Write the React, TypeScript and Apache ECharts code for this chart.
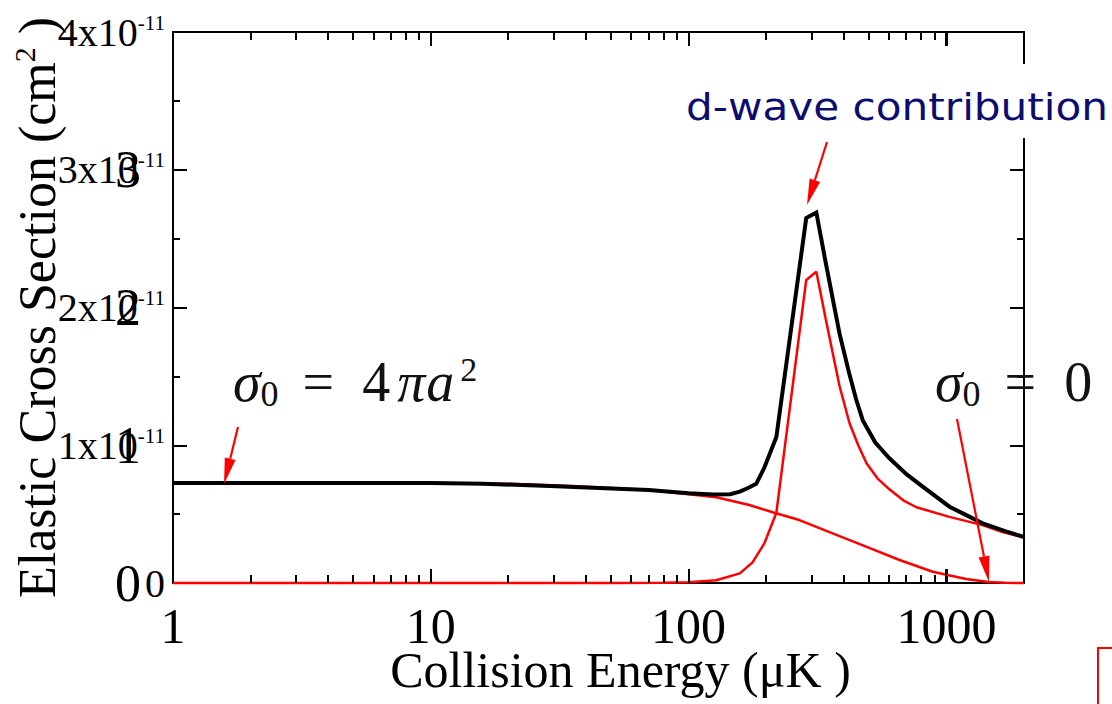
import React, { useEffect, useRef } from 'react';
import * as echarts from 'echarts';

// Collision energy axis (µK), log scale
const ENERGY_MIN = 1;
const ENERGY_MAX = 2000;
const X_TICK_LABELS = ['1', '10', '100', '1000'];
const MAJOR_X_TICKS = [10, 100, 1000];
const MINOR_X_TICKS = [2, 3, 4, 5, 6, 7, 8, 9, 20, 30, 40, 50, 60, 70, 80, 90, 200, 300, 400, 500, 600, 700, 800, 900];

// Cross section axis, values in units of 1e-11 cm^2
const Y_MIN = 0;
const Y_MAX = 4;
const Y_STEP = 1;
const Y_EXPONENT = '-11';

// Total elastic cross section (black) [energy µK, sigma 1e-11 cm^2]
const TOTAL_E = [1, 5, 10, 16, 29, 45, 70, 100, 125, 145, 158, 170, 183, 197, 219, 286, 313, 340, 385, 420, 447, 474, 530, 601, 700, 809, 1028, 1383, 1700, 2000];
const TOTAL_V = [0.726, 0.726, 0.726, 0.72, 0.705, 0.69, 0.675, 0.652, 0.642, 0.645, 0.663, 0.69, 0.72, 0.84, 1.06, 2.65, 2.69, 2.33, 1.81, 1.52, 1.33, 1.18, 1.02, 0.905, 0.79, 0.70, 0.554, 0.433, 0.375, 0.334];

// s-wave contribution (red)
const S_E = [1, 10, 20, 35, 50, 70, 100, 128, 172, 215, 269, 362, 488, 658, 885, 1192, 1455, 1700, 2000];
const S_V = [0.726, 0.726, 0.72, 0.705, 0.69, 0.675, 0.645, 0.622, 0.566, 0.51, 0.457, 0.36, 0.264, 0.167, 0.082, 0.029, 0.008, 0.001, 0];

// d-wave contribution (red)
const D_E = [1, 50, 80, 100, 128, 158, 177, 197, 219, 286, 313, 340, 385, 421, 455, 490, 540, 601, 680, 765, 1027, 1380, 1650, 2000];
const D_V = [0, 0, 0.002, 0.005, 0.02, 0.07, 0.15, 0.29, 0.51, 2.20, 2.26, 1.92, 1.43, 1.16, 1.0, 0.87, 0.76, 0.68, 0.6, 0.55, 0.48, 0.42, 0.37, 0.33];

const SERIF = 'Liberation Serif';
const MINOR_LEN = 8;
const MAJOR_LEN = 14;

// plot area
const G_LEFT = 173;
const G_RIGHT = 88;
const G_TOP = 32;
const G_BOTTOM = 121;
const W = 1112;
const H = 704;

const pairs = (xs: number[], ys: number[]) => xs.map((x, i) => [x, ys[i]]);

function arrow(x1: number, y1: number, x2: number, y2: number, headLen = 26, headW = 5.5) {
  const dx = x2 - x1;
  const dy = y2 - y1;
  const len = Math.sqrt(dx * dx + dy * dy);
  const ux = dx / len;
  const uy = dy / len;
  const bx = x2 - ux * headLen;
  const by = y2 - uy * headLen;
  const px = -uy;
  const py = ux;
  return [
    { type: 'line', z: 100, shape: { x1, y1, x2: bx, y2: by }, style: { stroke: '#ff0000', lineWidth: 2.2 } },
    {
      type: 'polygon',
      z: 100,
      shape: { points: [[x2, y2], [bx + px * headW, by + py * headW], [bx - px * headW, by - py * headW]] },
      style: { fill: '#ff0000' },
    },
  ];
}

const INK = '#111';
const mathRich = {
  v: { fontFamily: SERIF, fontStyle: 'italic', fontSize: 56, lineHeight: 60, fill: INK, color: INK },
  n: { fontFamily: SERIF, fontSize: 56, lineHeight: 60, fill: INK, color: INK },
  eq: { fontFamily: SERIF, fontSize: 56, lineHeight: 60, padding: [0, 28, 0, 24], fill: INK, color: INK },
  sb: { fontFamily: SERIF, fontSize: 36, lineHeight: 18, verticalAlign: 'bottom', fill: INK, color: INK },
  sp: { fontFamily: SERIF, fontSize: 34, lineHeight: 44, verticalAlign: 'top', padding: [0, 0, 0, 6], fill: INK, color: INK },
  pi: { fontFamily: SERIF, fontStyle: 'italic', fontSize: 56, lineHeight: 60, padding: [0, 1, 0, 7], fill: INK, color: INK },
};

export default function App() {
  const ref = useRef<HTMLDivElement>(null);

  useEffect(() => {
    document.body.style.margin = '0';
    if (!ref.current) return;
    const chart = echarts.init(ref.current, null, { renderer: 'svg' });

    const axisLine = { show: true, onZero: false, lineStyle: { color: '#000', width: 2 } };
    const majorTick = { show: true, inside: true, length: 14, lineStyle: { color: '#000', width: 2 } };
    const minorTick = { show: true, splitNumber: 2, length: 7, lineStyle: { color: '#000', width: 2 } };

    const annotations: any[] = [
      { type: 'rect', z: 90, shape: { x: 676, y: 64, width: 436, height: 74 }, style: { fill: '#fff' } },
      {
        type: 'text',
        z: 100,
        x: 686,
        y: 107,
        scaleX: 1.11,
        style: {
          text: 'd-wave contribution',
          fontFamily: 'DejaVu Sans',
          fontSize: 38,
          fill: '#0c0c6e',
          align: 'left',
          textAlign: 'left',
          verticalAlign: 'middle',
          textVerticalAlign: 'middle',
        },
      },
      {
        type: 'text',
        z: 100,
        x: 233,
        y: 382,
        style: {
          text: '{v|σ}{sb|0}{eq|=}{n|4}{pi|π}{v|a}{sp|2}',
          rich: mathRich,
          align: 'left',
          textAlign: 'left',
          verticalAlign: 'middle',
          textVerticalAlign: 'middle',
        },
      },
      {
        type: 'text',
        z: 100,
        x: 935,
        y: 382,
        style: {
          text: '{v|σ}{sb|0}{eq|=}{n|0}',
          rich: mathRich,
          align: 'left',
          textAlign: 'left',
          verticalAlign: 'middle',
          textVerticalAlign: 'middle',
        },
      },
      ...arrow(238, 427, 224, 484),
      ...arrow(827, 142, 807, 205),
      ...arrow(957, 419, 989, 582),
      {
        type: 'rect',
        z: 100,
        shape: { x: 1098, y: 648, width: 100, height: 100 },
        style: { fill: 'none', stroke: '#ff0000', lineWidth: 2 },
      },
    ];

    const option: any = {
      animation: false,
      backgroundColor: '#fff',
      grid: { left: G_LEFT, right: G_RIGHT, top: G_TOP, bottom: G_BOTTOM, containLabel: false, outerBoundsMode: 'none' },
      xAxis: [
        {
          type: 'log',
          logBase: 10,
          min: ENERGY_MIN,
          max: ENERGY_MAX,
          position: 'bottom',
          axisLine,
          axisTick: majorTick,
          splitLine: { show: false },
          axisLabel: {
            show: true,
            margin: 18,
            fontFamily: SERIF,
            fontSize: 50,
            color: '#000',
            showMaxLabel: false,
            formatter: (v: number) => {
              const s = String(Math.round(v));
              return X_TICK_LABELS.includes(s) ? s : '';
            },
          },
          name: 'Collision Energy (μK )',
          nameLocation: 'middle',
          nameGap: 62,
          nameMoveOverlap: false,
          nameTextStyle: { fontFamily: SERIF, fontSize: 50, color: '#000', padding: [0, 0, 0, 44] },
        },
        {
          type: 'log',
          logBase: 10,
          min: ENERGY_MIN,
          max: ENERGY_MAX,
          position: 'top',
          axisLine,
          axisTick: majorTick,
          splitLine: { show: false },
          axisLabel: { show: false },
        },
      ],
      yAxis: [
        {
          type: 'value',
          min: Y_MIN,
          max: Y_MAX,
          interval: Y_STEP,
          position: 'left',
          axisLine,
          axisTick: majorTick,
          minorTick,
          splitLine: { show: false },
          axisLabel: {
            margin: 8,
            formatter: (v: number) => (v === 0 ? '{m|0}' : `{m|${v}x10}{e|${Y_EXPONENT}}`),
            rich: {
              m: { fontFamily: SERIF, fontSize: 40, lineHeight: 40, color: '#000' },
              e: { fontFamily: SERIF, fontSize: 21, lineHeight: 20, verticalAlign: 'top', color: '#000' },
            },
          },
          name: '{a|Elastic Cross Section (cm}{s|2}{a| )}',
          nameLocation: 'middle',
          nameGap: 108,
          nameRotate: 90,
          nameMoveOverlap: false,
          nameTextStyle: {
            rich: {
              a: { fontFamily: SERIF, fontSize: 52, lineHeight: 56, color: '#000' },
              s: { fontFamily: SERIF, fontSize: 30, lineHeight: 30, verticalAlign: 'top', color: '#000' },
            },
          },
        },
        {
          type: 'value',
          min: Y_MIN,
          max: Y_MAX,
          interval: Y_STEP,
          position: 'left',
          axisLine: { show: false },
          axisTick: { show: false },
          splitLine: { show: false },
          axisLabel: {
            margin: 32,
            fontFamily: SERIF,
            fontSize: 52,
            color: '#000',
            formatter: (v: number) => (v === Y_MAX ? '' : String(v)),
          },
        },
        {
          type: 'value',
          min: Y_MIN,
          max: Y_MAX,
          interval: Y_STEP,
          position: 'right',
          axisLine,
          axisTick: majorTick,
          minorTick,
          splitLine: { show: false },
          axisLabel: { show: false },
        },
      ],
      series: [
        {
          type: 'line',
          name: 's-wave',
          data: pairs(S_E, S_V),
          symbol: 'none',
          clip: false,
          z: 3,
          lineStyle: { color: '#ff0000', width: 2.5 },
          itemStyle: { color: '#ff0000' },
        },
        {
          type: 'line',
          name: 'd-wave',
          data: pairs(D_E, D_V),
          symbol: 'none',
          clip: false,
          z: 3,
          lineStyle: { color: '#ff0000', width: 2.5 },
          itemStyle: { color: '#ff0000' },
        },
        {
          type: 'line',
          name: 'total',
          data: pairs(TOTAL_E, TOTAL_V),
          symbol: 'none',
          clip: false,
          z: 4,
          lineStyle: { color: '#000', width: 4, join: 'miter' },
          itemStyle: { color: '#000' },
        },
      ],
    };

    chart.setOption(option);

    // x-axis tick marks on the bottom and top edges, placed on the same log mapping as the axis
    const plotW = W - G_LEFT - G_RIGHT;
    const yBottom = H - G_BOTTOM;
    const logSpan = Math.log10(ENERGY_MAX) - Math.log10(ENERGY_MIN);
    const xOf = (v: number) => G_LEFT + ((Math.log10(v) - Math.log10(ENERGY_MIN)) / logSpan) * plotW;
    const tickEls: any[] = [];
    const addTicks = (vals: number[], len: number) => {
      vals.forEach((v) => {
        const x = Math.round(xOf(v));
        const st = { stroke: '#000', lineWidth: 2 };
        tickEls.push({ type: 'line', z: 50, shape: { x1: x, y1: yBottom, x2: x, y2: yBottom - len }, style: st });
        tickEls.push({ type: 'line', z: 50, shape: { x1: x, y1: G_TOP, x2: x, y2: G_TOP + len }, style: st });
      });
    };
    addTicks(MINOR_X_TICKS, MINOR_LEN);
    addTicks(MAJOR_X_TICKS, MAJOR_LEN);

    chart.setOption({ graphic: [...annotations, ...tickEls] });
    return () => chart.dispose();
  }, []);

  return <div ref={ref} style={{ width: W, height: H }} />;
}
